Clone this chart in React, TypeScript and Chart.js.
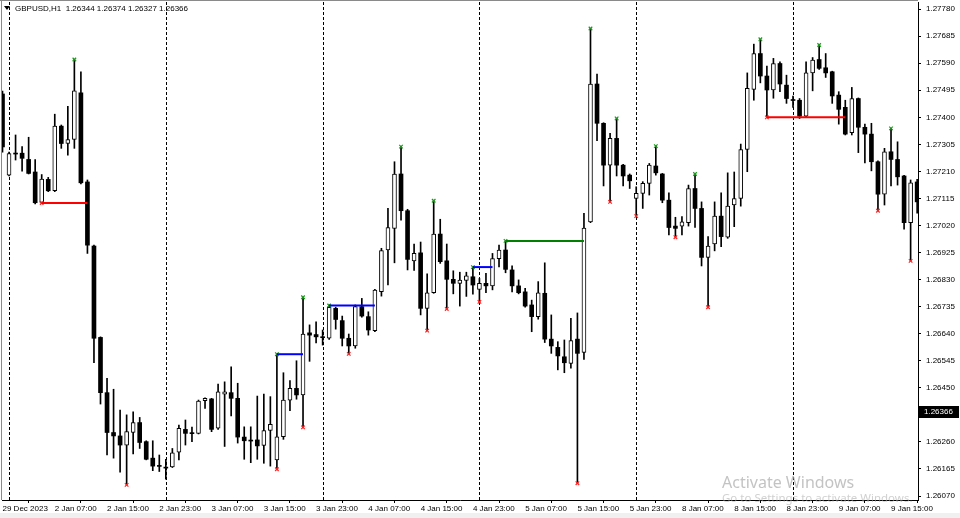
import React, { useEffect, useRef } from 'react';
import { Chart, registerables } from 'chart.js';

Chart.register(...registerables);

// ---------- data ----------
const headerText = 'GBPUSD,H1  1.26344 1.26374 1.26327 1.26366';
const currentPrice = 1.26366;

const xTickIndex = [0, 8, 16, 24, 32, 40, 48, 56, 64, 72, 80, 88, 96, 104, 112, 120, 128, 136];
const xTickLabels = [
  '29 Dec 2023', '2 Jan 07:00', '2 Jan 15:00', '2 Jan 23:00', '3 Jan 07:00', '3 Jan 15:00',
  '3 Jan 23:00', '4 Jan 07:00', '4 Jan 15:00', '4 Jan 23:00', '5 Jan 07:00', '5 Jan 15:00',
  '5 Jan 23:00', '8 Jan 07:00', '8 Jan 15:00', '8 Jan 23:00', '9 Jan 07:00', '9 Jan 15:00',
];
const yTickValues = [
  1.2607, 1.26165, 1.2626, 1.26355, 1.2645, 1.26545, 1.2664, 1.26735, 1.2683, 1.26925,
  1.2702, 1.27115, 1.2721, 1.27305, 1.274, 1.27495, 1.2759, 1.27685, 1.2778,
];
const daySeparators = [1, 25, 49, 73, 97, 121];

const opens = [
  1.27482, 1.27197, 1.27274, 1.27274, 1.27252, 1.27208, 1.27101, 1.27182, 1.27142, 1.27369,
  1.27308, 1.27322, 1.27486, 1.27173, 1.26948, 1.26627, 1.26433, 1.26293, 1.26281, 1.26249,
  1.26293, 1.26328, 1.26261, 1.26203, 1.26176, 1.2617, 1.26172, 1.26224, 1.26304, 1.26291,
  1.2629, 1.26405, 1.26411, 1.26308, 1.26428, 1.26433, 1.26413, 1.26277, 1.26265, 1.26267,
  1.26248, 1.263, 1.26197, 1.26278, 1.26407, 1.26448, 1.26425, 1.26643, 1.26637, 1.26628,
  1.26624, 1.26729, 1.26686, 1.26624, 1.26597, 1.26735, 1.267, 1.26651, 1.26788, 1.26934,
  1.2701, 1.27201, 1.27072, 1.26896, 1.26924, 1.26729, 1.26784, 1.2699, 1.26896, 1.26831,
  1.26817, 1.26827, 1.2684, 1.26796, 1.26817, 1.26808, 1.26904, 1.26934, 1.26864, 1.26808,
  1.26787, 1.26741, 1.267, 1.26782, 1.26621, 1.26592, 1.26559, 1.26536, 1.26621, 1.26574,
  1.27033, 1.27517, 1.27379, 1.27232, 1.27326, 1.27232, 1.27197, 1.27115, 1.27133, 1.27168,
  1.27229, 1.27201, 1.27109, 1.27018, 1.27018, 1.2703, 1.2715, 1.2708, 1.26908, 1.26955,
  1.27053, 1.26979, 1.27092, 1.27115, 1.27287, 1.27498, 1.27624, 1.27545, 1.27496, 1.27589,
  1.27513, 1.27461, 1.2746, 1.27404, 1.27556, 1.27603, 1.27574, 1.2756, 1.27478, 1.27435,
  1.27346, 1.27466, 1.27365, 1.27341, 1.27244, 1.2713, 1.27279, 1.27252, 1.27194, 1.2703,
  1.27173,
];
const highs = [
  1.27492, 1.27278, 1.27338, 1.27297, 1.2733, 1.27252, 1.27199, 1.27189, 1.27411, 1.27373,
  1.27439, 1.27603, 1.2756, 1.2718, 1.26951, 1.26629, 1.26483, 1.26445, 1.26372, 1.26355,
  1.26366, 1.26346, 1.26264, 1.26264, 1.26214, 1.26199, 1.26237, 1.26319, 1.26337, 1.26312,
  1.26407, 1.26415, 1.26413, 1.26463, 1.26471, 1.26524, 1.26466, 1.26313, 1.26313, 1.26421,
  1.26428, 1.26419, 1.26568, 1.26503, 1.26475, 1.26545, 1.26768, 1.26671, 1.26682, 1.26653,
  1.26739, 1.26733, 1.26702, 1.26639, 1.26741, 1.26764, 1.26717, 1.26796, 1.2694, 1.2708,
  1.27244, 1.27297, 1.27077, 1.26955, 1.26962, 1.2685, 1.27107, 1.27042, 1.26955, 1.26861,
  1.26856, 1.26856, 1.26874, 1.26834, 1.26852, 1.26922, 1.26951, 1.26966, 1.26878, 1.26829,
  1.26799, 1.26758, 1.26823, 1.26889, 1.26706, 1.26612, 1.26618, 1.26694, 1.26713, 1.27063,
  1.27712, 1.27552, 1.27381, 1.27344, 1.27396, 1.27235, 1.27201, 1.27156, 1.27174, 1.27238,
  1.27299, 1.27203, 1.27135, 1.27049, 1.27051, 1.27162, 1.27201, 1.27103, 1.26981, 1.27103,
  1.27135, 1.27205, 1.27208, 1.27306, 1.27556, 1.27657, 1.27674, 1.2758, 1.27607, 1.27595,
  1.27548, 1.27475, 1.27466, 1.27595, 1.2761, 1.27654, 1.27624, 1.27562, 1.2749, 1.2746,
  1.27505, 1.27468, 1.27376, 1.27379, 1.27247, 1.27291, 1.27361, 1.27314, 1.27196, 1.2718,
  1.27182,
];
const lows = [
  1.27278, 1.27194, 1.2725, 1.27211, 1.27201, 1.27096, 1.27099, 1.27139, 1.27139, 1.27291,
  1.27267, 1.27291, 1.27166, 1.26922, 1.26538, 1.26393, 1.26214, 1.26203, 1.26154, 1.26109,
  1.26218, 1.26237, 1.26197, 1.26159, 1.26156, 1.26129, 1.2617, 1.26197, 1.26249, 1.26261,
  1.26288, 1.26378, 1.26296, 1.26304, 1.26244, 1.26351, 1.26256, 1.26199, 1.26187, 1.26199,
  1.26185, 1.26175, 1.26164, 1.26269, 1.2637, 1.2641, 1.26311, 1.26543, 1.26608, 1.266,
  1.2662, 1.26656, 1.26597, 1.26569, 1.26589, 1.26698, 1.26635, 1.26647, 1.26772, 1.26811,
  1.26889, 1.27039, 1.26864, 1.26862, 1.26706, 1.26651, 1.26782, 1.26887, 1.26727, 1.2678,
  1.26737, 1.26771, 1.26779, 1.26752, 1.26784, 1.26794, 1.26875, 1.26854, 1.26787, 1.2678,
  1.26733, 1.26647, 1.26691, 1.26609, 1.26571, 1.26513, 1.26503, 1.26519, 1.26115, 1.2655,
  1.2703, 1.27318, 1.27159, 1.27103, 1.27194, 1.27159, 1.2715, 1.27053, 1.2708, 1.27127,
  1.27197, 1.271, 1.26987, 1.26979, 1.26987, 1.27018, 1.27013, 1.26878, 1.26733, 1.26931,
  1.26946, 1.26975, 1.27016, 1.27088, 1.27209, 1.2746, 1.27521, 1.274, 1.27467, 1.2749,
  1.27449, 1.27435, 1.27396, 1.27402, 1.27493, 1.27568, 1.2754, 1.27449, 1.27376, 1.27338,
  1.27338, 1.27276, 1.2724, 1.27212, 1.27072, 1.27092, 1.27159, 1.27162, 1.27007, 1.26896,
  1.27063,
];
const closes = [
  1.27296, 1.27273, 1.27271, 1.27256, 1.27203, 1.271, 1.27183, 1.27142, 1.27369, 1.27308,
  1.27322, 1.27493, 1.2717, 1.26951, 1.26624, 1.26433, 1.26293, 1.26281, 1.26249, 1.26296,
  1.26328, 1.26258, 1.26199, 1.26175, 1.26174, 1.26168, 1.26222, 1.26308, 1.2629, 1.26289,
  1.26403, 1.26413, 1.26304, 1.26436, 1.26436, 1.26413, 1.26277, 1.26264, 1.26263, 1.26246,
  1.263, 1.26322, 1.26278, 1.26407, 1.26448, 1.26425, 1.26639, 1.26635, 1.26629, 1.26626,
  1.26733, 1.2669, 1.26624, 1.26597, 1.26735, 1.26702, 1.26653, 1.26793, 1.26932, 1.27013,
  1.27201, 1.27072, 1.26901, 1.26922, 1.26729, 1.26784, 1.2699, 1.26893, 1.26831, 1.26817,
  1.26828, 1.26843, 1.26811, 1.26817, 1.26808, 1.26904, 1.26934, 1.26866, 1.26808, 1.26784,
  1.26737, 1.267, 1.26784, 1.26621, 1.26597, 1.26562, 1.26538, 1.26616, 1.26571, 1.27011,
  1.27517, 1.27379, 1.27232, 1.27326, 1.27232, 1.27194, 1.27177, 1.27133, 1.27168, 1.27232,
  1.27205, 1.27109, 1.27013, 1.2701, 1.27033, 1.2715, 1.2708, 1.26908, 1.26948, 1.27053,
  1.26981, 1.27088, 1.27115, 1.27287, 1.27502, 1.27624, 1.27545, 1.27496, 1.27589, 1.27517,
  1.27466, 1.27459, 1.27404, 1.27556, 1.27601, 1.27572, 1.27556, 1.27475, 1.27428, 1.27341,
  1.27466, 1.27365, 1.27341, 1.27244, 1.2713, 1.27279, 1.27252, 1.27191, 1.2703, 1.2717,
  1.27103,
];

// swing markers (candle indexes)
const swingHighIdx = [11, 42, 46, 50, 61, 66, 72, 77, 90, 94, 100, 106, 116, 125, 136];
const swingLowIdx = [6, 19, 42, 46, 53, 65, 68, 73, 88, 93, 97, 103, 108, 117, 134, 139];

// horizontal levels
const levelStart = [6, 42, 50, 72, 77, 117];
const levelEnd = [13, 46, 57, 75, 89, 129];
const levelPrice = [1.27099, 1.26568, 1.26739, 1.26874, 1.26966, 1.274];
const levelColors = ['#ff0000', '#0000ff', '#0000ff', '#0000ff', '#008000', '#ff0000'];

const FONT = '"Liberation Sans", Arial, sans-serif';

export default function App() {
  const ref = useRef<HTMLCanvasElement | null>(null);

  useEffect(() => {
    const canvas = ref.current;
    if (!canvas) return;
    const idx = opens.map((_, i) => i);
    const up = idx.map((i) => closes[i] >= opens[i]);

    const datasets: any[] = [];
    levelPrice.forEach((p, k) => {
      datasets.push({
        type: 'line',
        data: [
          { x: levelStart[k], y: p },
          { x: levelEnd[k], y: p },
        ],
        borderColor: levelColors[k],
        borderWidth: 2,
        pointRadius: 0,
        pointHoverRadius: 0,
        order: 0,
      });
    });
    datasets.push({
      type: 'line',
      data: swingHighIdx.map((i) => ({ x: i, y: highs[i] })),
      showLine: false,
      pointStyle: 'crossRot',
      pointRadius: 2.5,
      pointHoverRadius: 0,
      pointBorderWidth: 1.2,
      pointBorderColor: '#1a9a1a',
      pointBackgroundColor: '#1a9a1a',
      order: 0,
    });
    datasets.push({
      type: 'line',
      data: swingLowIdx.map((i) => ({ x: i, y: lows[i] })),
      showLine: false,
      pointStyle: 'crossRot',
      pointRadius: 2.5,
      pointHoverRadius: 0,
      pointBorderWidth: 1.2,
      pointBorderColor: '#ff2020',
      pointBackgroundColor: '#ff2020',
      order: 0,
    });
    datasets.push({
      type: 'bar',
      data: idx.map((i) => ({ x: i, y: [opens[i], closes[i]] })),
      backgroundColor: up.map((u) => (u ? '#ffffff' : '#000000')),
      borderColor: '#000000',
      borderWidth: up.map((u) => (u ? 1 : 0)),
      borderSkipped: false,
      barThickness: 4,
      minBarLength: 1,
      grouped: false,
      order: 1,
    });
    datasets.push({
      type: 'bar',
      data: idx.map((i) => ({ x: i, y: [lows[i], highs[i]] })),
      backgroundColor: '#000000',
      borderWidth: 0,
      barThickness: 1,
      grouped: false,
      order: 2,
    });

    const decor = {
      id: 'decor',
      beforeDatasetsDraw(chart: any) {
        const { ctx, chartArea, scales } = chart;
        ctx.save();
        ctx.strokeStyle = '#000';
        ctx.lineWidth = 1;
        ctx.setLineDash([3, 2]);
        daySeparators.forEach((s) => {
          const x = Math.round(scales.x.getPixelForValue(s)) + 0.5;
          ctx.beginPath();
          ctx.moveTo(x, chartArea.top);
          ctx.lineTo(x, chartArea.bottom);
          ctx.stroke();
        });
        ctx.restore();
      },
      afterDraw(chart: any) {
        const { ctx, chartArea, scales, width } = chart;
        ctx.save();
        // window frame
        ctx.strokeStyle = '#8a8a8a';
        ctx.lineWidth = 1;
        ctx.beginPath();
        ctx.moveTo(1.5, 0);
        ctx.lineTo(1.5, chartArea.bottom);
        ctx.moveTo(0, 0.5);
        ctx.lineTo(chartArea.right, 0.5);
        ctx.stroke();
        ctx.fillStyle = '#f0f0f0';
        ctx.fillRect(0, 513, width, 5);
        // header
        ctx.fillStyle = '#000';
        ctx.beginPath();
        ctx.moveTo(4, 6);
        ctx.lineTo(10, 6);
        ctx.lineTo(7, 10);
        ctx.closePath();
        ctx.fill();
        ctx.font = `8px ${FONT}`;
        ctx.textBaseline = 'middle';
        ctx.textAlign = 'left';
        ctx.fillText(headerText, 15, 9);
        // current price box
        const py = scales.y.getPixelForValue(currentPrice);
        ctx.fillStyle = '#000';
        ctx.fillRect(chartArea.right + 1, Math.round(py) - 6, 40, 12);
        ctx.fillStyle = '#fff';
        ctx.fillText(currentPrice.toFixed(5), chartArea.right + 6, py + 0.5);
        // watermark
        ctx.fillStyle = 'rgba(170,170,170,0.7)';
        ctx.font = '16px "Noto Sans", "Open Sans", sans-serif';
        ctx.textBaseline = 'alphabetic';
        ctx.fillText('Activate Windows', 722, 488);
        ctx.font = '11.5px "Noto Sans", "Open Sans", sans-serif';
        ctx.fillStyle = 'rgba(170,170,170,0.55)';
        ctx.fillText('Go to Settings to activate Windows.', 722, 502);
        ctx.restore();
      },
    };

    const chart = new Chart(canvas, {
      type: 'bar',
      data: { datasets },
      plugins: [decor],
      options: {
        animation: false,
        responsive: false,
        devicePixelRatio: 1,
        events: [],
        layout: { autoPadding: false, padding: { left: 2, top: 2, right: 0, bottom: 0 } },
        plugins: { legend: { display: false }, tooltip: { enabled: false } },
        scales: {
          x: {
            type: 'linear',
            min: -0.0765,
            max: 140.13,
            offset: false,
            grid: { display: true, drawOnChartArea: false, drawTicks: true, tickLength: 3, color: '#000' },
            border: { display: true, color: '#000', width: 1 },
            afterBuildTicks: (s: any) => {
              s.ticks = xTickIndex.map((v) => ({ value: v }));
            },
            afterFit: (s: any) => {
              s.height = 18;
              s.paddingLeft = 0;
              s.paddingRight = 0;
            },
            ticks: {
              autoSkip: false,
              maxRotation: 0,
              minRotation: 0,
              align: 'start',
              padding: 1,
              color: '#000',
              font: { family: FONT, size: 8 },
              callback: (_v: any, i: number) => xTickLabels[i],
            },
          },
          y: {
            type: 'linear',
            position: 'right',
            min: 1.26056,
            max: 1.27805,
            grid: { display: true, drawOnChartArea: false, drawTicks: true, tickLength: 3, color: '#000' },
            border: { display: true, color: '#000', width: 1 },
            afterBuildTicks: (s: any) => {
              s.ticks = yTickValues.map((v) => ({ value: v }));
            },
            afterFit: (s: any) => {
              s.width = 42;
              s.paddingTop = 0;
              s.paddingBottom = 0;
            },
            ticks: {
              autoSkip: false,
              padding: 5,
              color: '#000',
              font: { family: FONT, size: 8 },
              callback: (v: any) => Number(v).toFixed(5),
            },
          },
        },
      },
    } as any);

    return () => chart.destroy();
  }, []);

  return (
    <div style={{ position: 'fixed', left: 0, top: 0, width: 960, height: 518, background: '#fff' }}>
      <canvas ref={ref} width={960} height={518} style={{ width: 960, height: 518, display: 'block' }} />
    </div>
  );
}
